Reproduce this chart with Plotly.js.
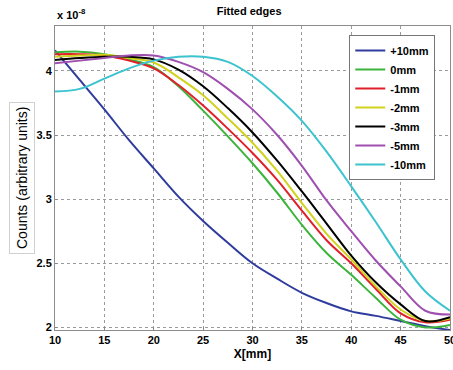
<!DOCTYPE html>
<html>
<head>
<meta charset="utf-8">
<script src="https://cdn.plot.ly/plotly-3.0.1.min.js"></script>
<style>html,body{margin:0;padding:0;background:#fff;}#chart{width:453px;height:370px;}</style>
</head>
<body>
<div id="chart"></div>
<script>
const xMm = [10, 12.5, 15, 17.5, 20, 22.5, 25, 27.5, 30, 32.5, 35, 37.5, 40, 42.5, 45, 47.5, 50];
const seriesNames = ["+10mm", "0mm", "-1mm", "-2mm", "-3mm", "-5mm", "-10mm"];
const plus10mm  = [4.16, 3.93, 3.70, 3.46, 3.24, 3.02, 2.83, 2.66, 2.50, 2.38, 2.27, 2.19, 2.125, 2.09, 2.05, 2.01, 1.98];
const zero_mm   = [4.145, 4.15, 4.13, 4.09, 4.03, 3.88, 3.69, 3.49, 3.28, 3.05, 2.80, 2.58, 2.41, 2.23, 2.06, 2.00, 2.02];
const minus1mm  = [4.13, 4.13, 4.12, 4.08, 4.02, 3.89, 3.73, 3.55, 3.36, 3.15, 2.91, 2.68, 2.50, 2.30, 2.11, 2.04, 2.06];
const minus2mm  = [4.11, 4.12, 4.125, 4.10, 4.065, 3.95, 3.81, 3.63, 3.44, 3.22, 2.97, 2.73, 2.53, 2.32, 2.14, 2.05, 2.07];
const minus3mm  = [4.085, 4.10, 4.11, 4.11, 4.09, 4.01, 3.88, 3.71, 3.52, 3.30, 3.06, 2.81, 2.56, 2.35, 2.18, 2.05, 2.08];
const minus5mm  = [4.06, 4.08, 4.10, 4.12, 4.12, 4.07, 3.99, 3.86, 3.70, 3.50, 3.26, 2.99, 2.75, 2.52, 2.32, 2.13, 2.10];
const minus10mm = [3.84, 3.86, 3.94, 4.02, 4.08, 4.11, 4.11, 4.07, 3.96, 3.80, 3.61, 3.37, 3.10, 2.82, 2.53, 2.28, 2.13];
const yTicks = [2, 2.5, 3, 3.5, 4];
const yTickText = ["2", "2.5", "3", "3.5", "4"];
const xTicks = [10, 15, 20, 25, 30, 35, 40, 45, 50];

const colors = ["#2f3c9e", "#3cb43c", "#e0202a", "#d2d21e", "#000000", "#9e4fb0", "#3cc3cf"];
const allY = [plus10mm, zero_mm, minus1mm, minus2mm, minus3mm, minus5mm, minus10mm];

const traces = allY.map((ys, i) => ({
  x: xMm, y: ys, name: seriesNames[i], type: "scatter", mode: "lines",
  line: {color: colors[i], width: 2, shape: "spline", smoothing: 1}
}));

const FONT = "Liberation Sans, Arial, sans-serif";
const layout = {
  width: 453, height: 370,
  margin: {l: 55, r: 3, t: 26, b: 40},
  paper_bgcolor: "#fff", plot_bgcolor: "#fff",
  font: {family: FONT, size: 11, color: "#000"},
  title: {text: "<b>Fitted edges</b>", font: {family: FONT, size: 11, color: "#000"}, x: 0.55, xanchor: "center", y: 0.97, yanchor: "middle"},
  xaxis: {
    range: [10, 50], tickvals: xTicks, ticktext: xTicks.map(v => "<b>" + v + "</b>"),
    ticklabeloverflow: "allow",
    showgrid: true, gridcolor: "#9a9a9a", griddash: "dot", gridwidth: 1,
    showline: true, linecolor: "#8c8c8c", linewidth: 1, mirror: true,
    ticks: "inside", ticklen: 3, tickcolor: "#8c8c8c", zeroline: false,
    tickfont: {family: FONT, size: 11, color: "#000"},
    title: {text: "<b>X[mm]</b>", font: {family: FONT, size: 12, color: "#000"}, standoff: 4}
  },
  yaxis: {
    range: [1.98, 4.35], tickvals: yTicks, ticktext: yTickText.map(v => "<b>" + v + "</b>"),
    showgrid: true, gridcolor: "#9a9a9a", griddash: "dot", gridwidth: 1,
    showline: true, linecolor: "#8c8c8c", linewidth: 1, mirror: true,
    ticks: "inside", ticklen: 3, tickcolor: "#8c8c8c", zeroline: false,
    tickfont: {family: FONT, size: 11, color: "#000"}
  },
  legend: {
    x: 0.745, y: 0.97, xanchor: "left", yanchor: "top",
    bgcolor: "#fff", bordercolor: "#777", borderwidth: 1,
    font: {family: FONT, size: 11, color: "#000", weight: "bold"},
    tracegroupgap: 0, itemwidth: 30
  },
  showlegend: true,
  annotations: [
    {text: "<b>x 10<sup>-8</sup></b>", xref: "paper", yref: "paper", x: 0, y: 1, xanchor: "left", yanchor: "bottom", yshift: 3, showarrow: false, font: {family: FONT, size: 11, color: "#000"}},
    {text: "Counts (arbitrary units)", xref: "paper", yref: "paper", x: 0, y: 0.5, xshift: -33, xanchor: "center", yanchor: "middle", textangle: -90, showarrow: false,
     font: {family: FONT, size: 14, color: "#000"}, bordercolor: "#d0d0d0", borderwidth: 1, bgcolor: "#fff", borderpad: 4}
  ]
};

Plotly.newPlot("chart", traces, layout, {displayModeBar: false, staticPlot: true});
</script>
</body>
</html>
